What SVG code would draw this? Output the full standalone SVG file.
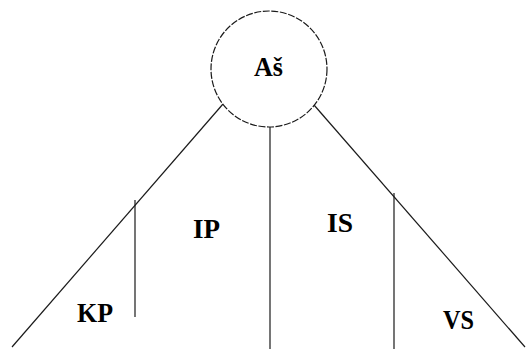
<svg xmlns="http://www.w3.org/2000/svg" width="526" height="349" viewBox="0 0 526 349">
  <style>
    .edge { stroke: #1a1a1a; stroke-width: 1.2; fill: none; }
    .ring { stroke: #1a1a1a; stroke-width: 1.2; fill: #ffffff; stroke-dasharray: 7 1.6; }
    .lbl { font-family: "Liberation Serif", "Times New Roman", serif; font-weight: bold; fill: #000000; font-size: 27px; }
  </style>
  <rect width="526" height="349" fill="#ffffff"/>

  <!-- dividing lines of the fan -->
  <g id="connectors">
    <line class="edge" x1="223" y1="104" x2="12" y2="347"/>
    <line class="edge" x1="314" y1="105" x2="525" y2="347"/>
    <line class="edge" x1="270" y1="127" x2="270" y2="349"/>
    <line class="edge" x1="135" y1="200" x2="135" y2="317"/>
    <line class="edge" x1="394" y1="193" x2="394" y2="349"/>
  </g>

  <!-- apex node -->
  <g id="node-as">
    <circle class="ring" cx="269" cy="69" r="58"/>
    <text class="lbl" x="254" y="76" font-size="20" textLength="29" lengthAdjust="spacingAndGlyphs">Aš</text>
  </g>

  <!-- sector labels -->
  <g id="node-kp">
    <text class="lbl" x="77" y="322" textLength="36" lengthAdjust="spacingAndGlyphs">KP</text>
  </g>
  <g id="node-ip">
    <text class="lbl" x="193" y="238" textLength="27" lengthAdjust="spacingAndGlyphs">IP</text>
  </g>
  <g id="node-is">
    <text class="lbl" x="327" y="232" textLength="26" lengthAdjust="spacingAndGlyphs">IS</text>
  </g>
  <g id="node-vs">
    <text class="lbl" x="443" y="329" textLength="31" lengthAdjust="spacingAndGlyphs">VS</text>
  </g>
</svg>
